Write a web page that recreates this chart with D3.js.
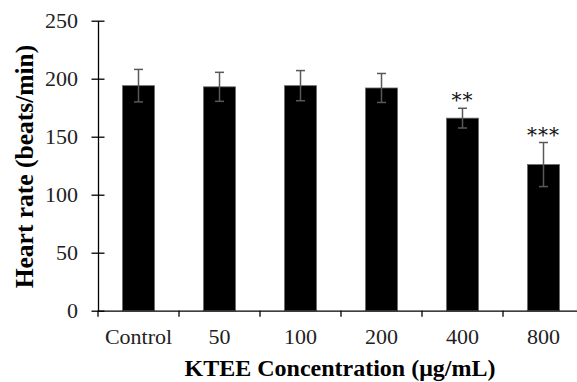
<!DOCTYPE html>
<html lang="en">
<head>
    <meta charset="UTF-8">
    <title>Heart rate vs KTEE concentration</title>
    <script src="https://d3js.org/d3.v7.min.js"></script>
    <style>
        body {
            margin: 0;
            padding: 0;
            background: #fff;
        }

        svg {
            display: block;
            font-family: 'Liberation Serif', serif;
        }

        .axis path,
        .axis line {
            stroke: #000;
            stroke-width: 1.3;
        }

        .axis text {
            font-size: 22px;
            fill: #222;
            font-family: 'Liberation Serif', serif;
        }

        .axis-label {
            font-weight: bold;
            fill: #000;
        }
    </style>
</head>
<body>
    <svg width="577" height="382"></svg>

    <script>
        // Data
        const categories = ["Control", "50", "100", "200", "400", "800"];
        const heartRate = [194, 193, 194, 192, 166, 126];
        const errors = [14, 12.5, 13, 12.5, 8.5, 19];
        const stars = ["", "", "", "", "**", "***"];
        const yTicks = [0, 50, 100, 150, 200, 250];

        const svg = d3.select("svg"),
              margin = { top: 20.7, left: 98, bottom: 71.3 },
              height = +svg.attr("height") - margin.top - margin.bottom;

        const x = d3.scaleBand()
            .domain(categories)
            .range([margin.left, 584])
            .paddingInner(0.605)
            .paddingOuter(0.3025);

        const y = d3.scaleLinear()
            .domain([0, 250])
            .range([margin.top + height, margin.top]);

        const y0 = y(0);

        // Bars
        svg.append("g")
            .selectAll("rect")
            .data(categories)
            .join("rect")
            .attr("x", d => x(d))
            .attr("y", (d, i) => y(heartRate[i]))
            .attr("width", x.bandwidth())
            .attr("height", (d, i) => y0 - y(heartRate[i]))
            .attr("fill", "#000")
            .attr("stroke", "#6a6a6a")
            .attr("stroke-width", 0.8);

        // Error bars
        const eb = svg.append("g")
            .attr("stroke", "#595959")
            .attr("stroke-width", 1.5);

        categories.forEach((c, i) => {
            const cx = x(c) + x.bandwidth() / 2;
            const top = y(heartRate[i] + errors[i]);
            const bot = y(heartRate[i] - errors[i]);
            eb.append("line").attr("x1", cx).attr("x2", cx).attr("y1", top).attr("y2", bot);
            eb.append("line").attr("x1", cx - 4.5).attr("x2", cx + 4.5).attr("y1", top).attr("y2", top);
            eb.append("line").attr("x1", cx - 4.5).attr("x2", cx + 4.5).attr("y1", bot).attr("y2", bot);
        });

        // Significance stars
        svg.append("g")
            .selectAll("text")
            .data(categories)
            .join("text")
            .attr("x", d => x(d) + x.bandwidth() / 2)
            .attr("y", (d, i) => y(heartRate[i] + errors[i]) - 1)
            .attr("text-anchor", "middle")
            .attr("font-family", "'DejaVu Serif', serif")
            .attr("font-size", 20)
            .attr("letter-spacing", 1)
            .attr("fill", "#111")
            .text((d, i) => stars[i]);

        // Y axis
        const yAxis = svg.append("g")
            .attr("class", "axis")
            .attr("transform", `translate(${margin.left},0)`)
            .call(d3.axisLeft(y).tickValues(yTicks).tickSize(6.5).tickSizeOuter(0).tickPadding(13.5));
        yAxis.selectAll(".tick line").attr("x1", 6.5);

        // X axis
        const xAxis = svg.append("g")
            .attr("class", "axis")
            .attr("transform", `translate(0,${y0})`)
            .call(d3.axisBottom(x).tickSize(0).tickPadding(17.7));

        const half = (x.step() - x.bandwidth()) / 2;
        const bounds = categories.map(c => x(c) - half).concat([x(categories[categories.length - 1]) + x.bandwidth() + half]);
        xAxis.selectAll(".bound")
            .data(bounds)
            .join("line")
            .attr("class", "bound")
            .attr("x1", d => d)
            .attr("x2", d => d)
            .attr("y1", 0)
            .attr("y2", 6);

        // Axis labels
        svg.append("text")
            .attr("class", "axis-label")
            .attr("transform", "translate(33.3,166.5) rotate(-90)")
            .attr("text-anchor", "middle")
            .attr("font-size", 25.5)
            .text("Heart rate (beats/min)");

        svg.append("text")
            .attr("class", "axis-label")
            .attr("x", 340)
            .attr("y", 376)
            .attr("text-anchor", "middle")
            .attr("font-size", 24)
            .text("KTEE Concentration (μg/mL)");
    </script>
</body>
</html>
